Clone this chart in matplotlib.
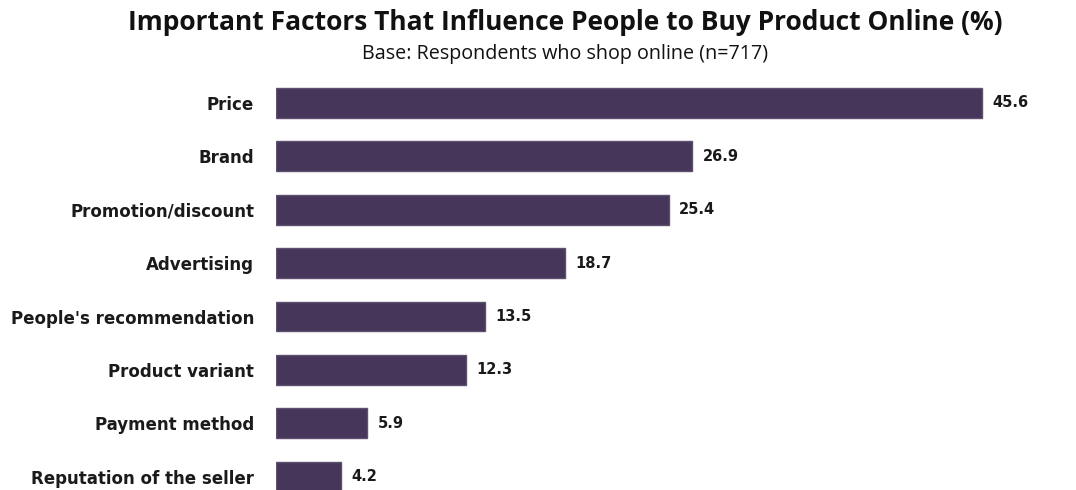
import matplotlib.pyplot as plt

categories = ["Price", "Brand", "Promotion/discount", "Advertising",
              "People's recommendation", "Product variant", "Payment method",
              "Reputation of the seller"]
values = [45.6, 26.9, 25.4, 18.7, 13.5, 12.3, 5.9, 4.2]

plt.rcParams['font.family'] = ['DejaVu Sans']

fig = plt.figure(figsize=(10.76, 4.9), dpi=100)
ax = fig.add_axes([276 / 1076, 0, 784 / 1076, 1 - 76.3 / 490])

pos = list(range(len(categories)))
ax.barh(pos, values, height=0.56, color='#46375a', edgecolor='#5e5070', linewidth=1.0)

for p, v in zip(pos, values):
    ax.text(v + 0.65, p, f"{v:.1f}", va='center', ha='left',
            fontsize=10.5, fontweight='bold', color='#1a1a1a')

ax.set_xlim(0, 784 / 15.48)
ax.set_ylim(7.25, -0.5)
ax.set_yticks(pos)
ax.set_yticklabels(categories, fontsize=12, fontweight='bold', color='#1a1a1a')
ax.tick_params(axis='y', length=0, pad=15.8)
ax.set_xticks([])
for s in ax.spines.values():
    s.set_visible(False)

fig.text(565 / 1076, 1 - 22 / 490, "Important Factors That Influence People to Buy Product Online (%)",
         ha='center', va='center', fontsize=19, fontweight='bold', color='#111111',
         family='Open Sans')
fig.text(565 / 1076, 1 - 54 / 490, "Base: Respondents who shop online (n=717)",
         ha='center', va='center', fontsize=14.2, color='#111111', family='Open Sans')

fig.savefig('out.png', dpi=100, facecolor='white')
